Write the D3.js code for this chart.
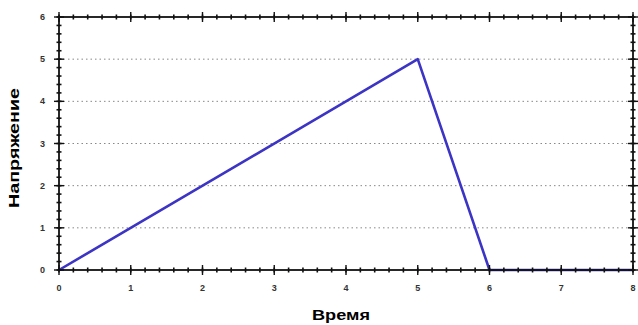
<html>
<head>
    <script type="text/javascript" src="https://d3js.org/d3.v7.min.js"></script>
    <meta charset="UTF-8">
    <style>
        body { margin:0; background:#fff; }
        text { font-family: "Liberation Sans", Arial, sans-serif; }
    </style>
</head>
<body>
    <svg width="638" height="325"></svg>
    <script>
        // данные: время и напряжение
        var time = [0, 5, 6, 8];
        var voltage = [0, 5, 0, 0];
        var xTicks = [0, 1, 2, 3, 4, 5, 6, 7, 8];
        var yTicks = [0, 1, 2, 3, 4, 5, 6];

        var svg = d3.select("svg");
        var marge = {top:17, bottom:55, left:59, right:5};
        var width = 638 - marge.left - marge.right;
        var height = 325 - marge.top - marge.bottom;

        var g = svg.append("g")
            .attr("transform","translate("+marge.left+","+marge.top+")");

        var xScale = d3.scaleLinear().domain([0,8]).range([0,width]);
        var yScale = d3.scaleLinear().domain([0,6]).range([height,0]);

        // сетка по y
        g.append("g").selectAll("line")
            .data(yTicks.slice(1,-1))
            .enter().append("line")
            .attr("x1",0).attr("x2",width)
            .attr("y1",function(d){ return yScale(d); })
            .attr("y2",function(d){ return yScale(d); })
            .attr("stroke","#888")
            .attr("stroke-width",1)
            .attr("stroke-dasharray","1.5,3");

        // линия
        var line = d3.line()
            .x(function(d,i){ return xScale(time[i]); })
            .y(function(d){ return yScale(d); });
        g.append("path")
            .datum(voltage)
            .attr("d",line)
            .attr("fill","none")
            .attr("stroke","#3b34c4")
            .attr("stroke-width",2.6)
            .attr("stroke-linejoin","round");

        // мелкие деления
        var xMinor = d3.range(0, 8.001, 0.2);
        var yMinor = d3.range(0, 6.001, 0.2);

        function ticks(sel, vals, isX, pos, len, w){
            sel.selectAll(null).data(vals).enter().append("line")
                .attr("x1",function(d){ return isX ? xScale(d) : pos - len; })
                .attr("x2",function(d){ return isX ? xScale(d) : pos + len; })
                .attr("y1",function(d){ return isX ? pos - len : yScale(d); })
                .attr("y2",function(d){ return isX ? pos + len : yScale(d); })
                .attr("stroke","#111")
                .attr("stroke-width",w);
        }
        var tk = g.append("g");
        ticks(tk, xMinor, true, height, 2.5, 1.6);
        ticks(tk, xMinor, true, 0, 2.5, 1.6);
        ticks(tk, yMinor, false, 0, 2.5, 1.6);
        ticks(tk, yMinor, false, width, 2.5, 1.6);
        ticks(tk, xTicks, true, height, 5, 1.4);
        ticks(tk, xTicks, true, 0, 5, 1.4);
        ticks(tk, yTicks, false, 0, 5, 1.4);
        ticks(tk, yTicks, false, width, 5, 1.4);

        // рамка
        g.append("rect")
            .attr("x",0).attr("y",0)
            .attr("width",width).attr("height",height)
            .attr("fill","none")
            .attr("stroke","#111")
            .attr("stroke-width",1.8);

        // подписи делений
        g.append("g").selectAll("text").data(xTicks).enter().append("text")
            .attr("x",function(d){ return xScale(d); })
            .attr("y",height+21)
            .attr("text-anchor","middle")
            .attr("font-size",9).attr("font-weight","bold").attr("fill","#333")
            .text(function(d){ return d; });
        g.append("g").selectAll("text").data(yTicks).enter().append("text")
            .attr("x",-14)
            .attr("y",function(d){ return yScale(d)+3; })
            .attr("text-anchor","end")
            .attr("font-size",9).attr("font-weight","bold").attr("fill","#333")
            .text(function(d){ return d; });

        // заголовки осей
        svg.append("text")
            .attr("x",341).attr("y",320)
            .attr("text-anchor","middle")
            .attr("font-size",14).attr("font-weight","bold")
            .attr("textLength",58).attr("lengthAdjust","spacingAndGlyphs")
            .text("Время");
        svg.append("text")
            .attr("transform","translate(19,148) rotate(-90)")
            .attr("text-anchor","middle")
            .attr("font-size",14).attr("font-weight","bold")
            .attr("textLength",120).attr("lengthAdjust","spacingAndGlyphs")
            .text("Напряжение");
    </script>
</body>
</html>
